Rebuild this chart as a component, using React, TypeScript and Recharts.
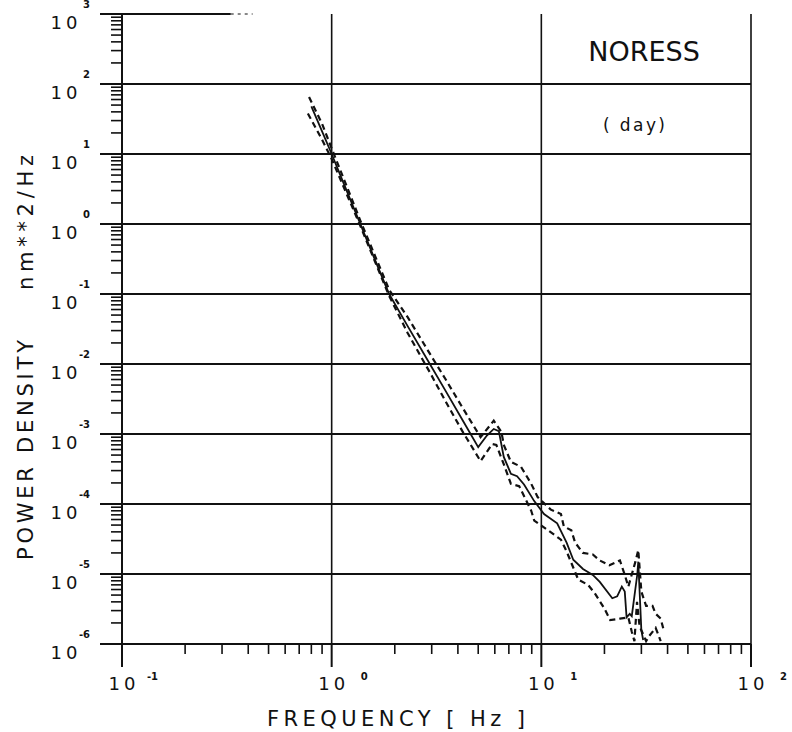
import { Line, LineChart, ReferenceLine, XAxis, YAxis } from 'recharts';

// Power spectral density, NORESS daytime noise (median with upper/lower bounds)
const solidFreq = [0.8, 0.9, 1.0, 1.15, 1.37, 1.6, 1.88, 2.3, 2.94, 3.5, 4.2, 5.0, 5.5, 5.93, 6.27, 6.62, 7.16, 7.66, 8.27, 9.25, 10.3, 11.9, 13.2, 14.2, 15.8, 17.6, 19.0, 21.8, 23.0, 24.2, 25.0, 25.5, 26.4, 27.0, 28.7, 29.0, 30.0, 30.6];
const solidPower = [48, 21, 10, 3.6, 1.0, 0.32, 0.1, 0.035, 0.01, 0.0041, 0.0016, 0.00065, 0.00095, 0.00118, 0.0011, 0.00047, 0.00027, 0.00025, 0.00019, 0.00011, 7.2e-5, 5.3e-5, 2.8e-5, 1.6e-5, 1.18e-5, 9.7e-6, 7.7e-6, 4.5e-6, 4.8e-6, 6.6e-6, 5.6e-6, 2.4e-6, 2.7e-6, 2.5e-6, 1.0e-5, 1.5e-5, 1.56e-6, 1.14e-6];

const upperFreq = [0.78, 0.9, 1.0, 1.37, 1.88, 2.3, 3.15, 3.5, 4.2, 5.13, 5.93, 6.45, 6.62, 7.16, 8.0, 8.95, 9.6, 11.1, 12.4, 12.8, 13.9, 14.5, 15.8, 17.6, 19.0, 21.1, 23.7, 25.0, 26.0, 28.1, 29.0, 30.0, 31.6, 33.9, 35.1, 37.1, 38.3];
const upperPower = [65, 27, 12, 1.12, 0.115, 0.047, 0.01, 0.006, 0.0024, 0.0009, 0.00155, 0.00107, 0.0007, 0.0004, 0.00034, 0.000194, 0.000126, 8.3e-5, 7.2e-5, 4.8e-5, 4.2e-5, 2.8e-5, 2.0e-5, 1.9e-5, 1.56e-5, 1.33e-5, 1.56e-5, 9.7e-6, 6.6e-6, 1.5e-5, 2.2e-5, 5.6e-6, 3.5e-6, 3.5e-6, 2.7e-6, 2.3e-6, 1.6e-6];

const lowerFreq = [0.77, 0.9, 1.0, 1.37, 1.88, 2.3, 2.79, 2.94, 3.5, 4.2, 5.13, 5.83, 6.1, 6.62, 7.16, 7.84, 8.95, 9.25, 10.9, 12.4, 13.2, 15.0, 16.7, 18.0, 20.0, 21.3, 23.7, 26.0, 27.0, 27.8, 28.6, 29.4, 31.6, 32.7, 35.1, 37.1];
const lowerPower = [38, 16, 8.5, 0.94, 0.094, 0.028, 0.01, 0.0076, 0.0029, 0.0011, 0.00041, 0.00072, 0.0007, 0.00037, 0.000194, 0.00018, 8.0e-5, 5.8e-5, 4.1e-5, 3.1e-5, 2.1e-5, 8.3e-6, 7.0e-6, 5.3e-6, 3.2e-6, 2.2e-6, 2.3e-6, 2.4e-6, 1.5e-6, 1.1e-6, 4.0e-6, 1.8e-6, 1.1e-6, 1.3e-6, 1.7e-6, 1.1e-6];

const freqDecades = [0.1, 1, 10, 100];
const powerDecades = [1e-6, 1e-5, 1e-4, 1e-3, 1e-2, 1e-1, 1, 10, 100, 1000];
const minorSteps = [2, 3, 4, 5, 6, 7, 8, 9];

const INK = '#111';
const FONT = '"DejaVu Sans", sans-serif';

const toPoints = (freq: number[], power: number[]) => freq.map((f, i) => ({ f, p: power[i] }));

function withMinors(decades: number[]) {
  const out: number[] = [];
  decades.forEach((d, i) => {
    out.push(d);
    if (i < decades.length - 1) minorSteps.forEach((m) => out.push(Number((d * m).toPrecision(3))));
  });
  return out;
}

const isDecade = (v: number) => Math.abs(Math.log10(v) - Math.round(Math.log10(v))) < 1e-6;

function FreqTick({ x, y, payload }: any) {
  const v = payload.value as number;
  const major = isDecade(v);
  return (
    <g>
      <line x1={x} x2={x} y1={y} y2={y + (major ? 23 : 10)} stroke={INK} strokeWidth={major ? 2 : 1.6} />
      {major && (
        <g fill={INK} fontFamily={FONT}>
          <text x={x + 2} y={y + 46} textAnchor="middle" fontSize={18} letterSpacing={4}>10</text>
          <text x={x + 36} y={y + 36} textAnchor="end" fontSize={10} fontWeight={700}>
            {Math.round(Math.log10(v))}
          </text>
        </g>
      )}
    </g>
  );
}

function PowerTick({ x, y, payload }: any) {
  const v = payload.value as number;
  const major = isDecade(v);
  return (
    <g>
      <line x1={x - (major ? 22 : 11)} x2={x} y1={y} y2={y} stroke={INK} strokeWidth={major ? 2 : 1.6} />
      {major && (
        <g fill={INK} fontFamily={FONT}>
          <text x={x - 56} y={y + 15} textAnchor="middle" fontSize={18} letterSpacing={4}>10</text>
          <text x={x - 32} y={y - 6} textAnchor="end" fontSize={10} fontWeight={700}>
            {Math.round(Math.log10(v))}
          </text>
        </g>
      )}
    </g>
  );
}

export default function App() {
  const box = { position: 'absolute' as const, left: 0, top: 0, width: 792, height: 732 };
  return (
    <div style={{ ...box, background: '#fff' }}>
      <LineChart width={792} height={732} margin={{ top: 14, right: 41, bottom: 0, left: 0 }}>
        <XAxis
          dataKey="f"
          type="number"
          scale="log"
          domain={[0.1, 100]}
          allowDataOverflow
          ticks={withMinors(freqDecades)}
          interval={0}
          tick={FreqTick}
          tickLine={false}
          tickSize={0}
          tickMargin={0}
          height={88}
          axisLine={{ stroke: INK, strokeWidth: 2 }}
        />
        <YAxis
          dataKey="p"
          type="number"
          scale="log"
          domain={[1e-6, 1000]}
          allowDataOverflow
          ticks={withMinors(powerDecades)}
          interval={0}
          tick={PowerTick}
          tickLine={false}
          tickSize={0}
          tickMargin={0}
          width={122}
          axisLine={{ stroke: INK, strokeWidth: 2 }}
        />
        {powerDecades.slice(1, -1).map((v) => (
          <ReferenceLine key={v} y={v} stroke={INK} strokeWidth={2} />
        ))}
        <ReferenceLine x={1} stroke={INK} strokeWidth={1.6} />
        <ReferenceLine x={10} stroke={INK} strokeWidth={1.6} />
        <ReferenceLine x={100} stroke={INK} strokeWidth={1.6} />
        <ReferenceLine segment={[{ x: 0.1, y: 1000 }, { x: 0.33, y: 1000 }]} stroke={INK} strokeWidth={2} />
        <ReferenceLine segment={[{ x: 0.33, y: 1000 }, { x: 0.42, y: 1000 }]} stroke={INK} strokeWidth={1} strokeDasharray="3 4" />
        <Line data={toPoints(upperFreq, upperPower)} dataKey="p" stroke={INK} strokeWidth={2.2} strokeDasharray="6 4" dot={false} isAnimationActive={false} />
        <Line data={toPoints(lowerFreq, lowerPower)} dataKey="p" stroke={INK} strokeWidth={2.2} strokeDasharray="6 4" dot={false} isAnimationActive={false} />
        <Line data={toPoints(solidFreq, solidPower)} dataKey="p" stroke={INK} strokeWidth={1.8} dot={false} isAnimationActive={false} />
      </LineChart>
      <svg style={{ ...box, pointerEvents: 'none' }} width={792} height={732}>
        <g fill={INK} fontFamily={FONT}>
          <text x={644} y={61} textAnchor="middle" fontSize={27}>NORESS</text>
          <text x={603} y={131} fontSize={17} textLength={62} lengthAdjust="spacing">( day)</text>
          <text x={267} y={726} fontSize={21} textLength={258} lengthAdjust="spacing">FREQUENCY [ Hz ]</text>
          <text x={33} y={560} fontSize={21} textLength={220} lengthAdjust="spacing" transform="rotate(-90 33 560)">POWER DENSITY</text>
          <text x={33} y={290} fontSize={21} textLength={135} lengthAdjust="spacing" transform="rotate(-90 33 290)">nm**2/Hz</text>
        </g>
      </svg>
    </div>
  );
}
